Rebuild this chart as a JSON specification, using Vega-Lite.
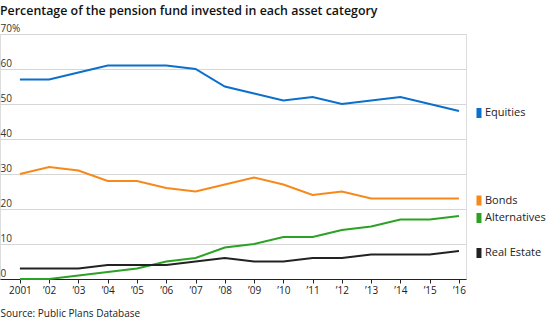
{
  "$schema": "https://vega.github.io/schema/vega-lite/v6.json",
  "width": 466,
  "height": 245,
  "autosize": {"type": "none"},
  "padding": {"left": 0, "top": 34, "right": 84, "bottom": 42},
  "background": "white",
  "title": {
    "text": "Percentage of the pension fund invested in each asset category",
    "anchor": "start",
    "frame": "group",
    "font": "Open Sans",
    "fontSize": 12.4,
    "fontWeight": 600,
    "color": "#111",
    "offset": 6
  },
  "data": {
    "values": [
      {"year": 2001, "cat": "Equities", "v": 57}, {"year": 2002, "cat": "Equities", "v": 57}, {"year": 2003, "cat": "Equities", "v": 59}, {"year": 2004, "cat": "Equities", "v": 61}, {"year": 2005, "cat": "Equities", "v": 61}, {"year": 2006, "cat": "Equities", "v": 61}, {"year": 2007, "cat": "Equities", "v": 60}, {"year": 2008, "cat": "Equities", "v": 55}, {"year": 2009, "cat": "Equities", "v": 53}, {"year": 2010, "cat": "Equities", "v": 51}, {"year": 2011, "cat": "Equities", "v": 52}, {"year": 2012, "cat": "Equities", "v": 50}, {"year": 2013, "cat": "Equities", "v": 51}, {"year": 2014, "cat": "Equities", "v": 52}, {"year": 2015, "cat": "Equities", "v": 50}, {"year": 2016, "cat": "Equities", "v": 48},
      {"year": 2001, "cat": "Bonds", "v": 30}, {"year": 2002, "cat": "Bonds", "v": 32}, {"year": 2003, "cat": "Bonds", "v": 31}, {"year": 2004, "cat": "Bonds", "v": 28}, {"year": 2005, "cat": "Bonds", "v": 28}, {"year": 2006, "cat": "Bonds", "v": 26}, {"year": 2007, "cat": "Bonds", "v": 25}, {"year": 2008, "cat": "Bonds", "v": 27}, {"year": 2009, "cat": "Bonds", "v": 29}, {"year": 2010, "cat": "Bonds", "v": 27}, {"year": 2011, "cat": "Bonds", "v": 24}, {"year": 2012, "cat": "Bonds", "v": 25}, {"year": 2013, "cat": "Bonds", "v": 23}, {"year": 2014, "cat": "Bonds", "v": 23}, {"year": 2015, "cat": "Bonds", "v": 23}, {"year": 2016, "cat": "Bonds", "v": 23},
      {"year": 2001, "cat": "Alternatives", "v": 0}, {"year": 2002, "cat": "Alternatives", "v": 0}, {"year": 2003, "cat": "Alternatives", "v": 1}, {"year": 2004, "cat": "Alternatives", "v": 2}, {"year": 2005, "cat": "Alternatives", "v": 3}, {"year": 2006, "cat": "Alternatives", "v": 5}, {"year": 2007, "cat": "Alternatives", "v": 6}, {"year": 2008, "cat": "Alternatives", "v": 9}, {"year": 2009, "cat": "Alternatives", "v": 10}, {"year": 2010, "cat": "Alternatives", "v": 12}, {"year": 2011, "cat": "Alternatives", "v": 12}, {"year": 2012, "cat": "Alternatives", "v": 14}, {"year": 2013, "cat": "Alternatives", "v": 15}, {"year": 2014, "cat": "Alternatives", "v": 17}, {"year": 2015, "cat": "Alternatives", "v": 17}, {"year": 2016, "cat": "Alternatives", "v": 18},
      {"year": 2001, "cat": "Real Estate", "v": 3}, {"year": 2002, "cat": "Real Estate", "v": 3}, {"year": 2003, "cat": "Real Estate", "v": 3}, {"year": 2004, "cat": "Real Estate", "v": 4}, {"year": 2005, "cat": "Real Estate", "v": 4}, {"year": 2006, "cat": "Real Estate", "v": 4}, {"year": 2007, "cat": "Real Estate", "v": 5}, {"year": 2008, "cat": "Real Estate", "v": 6}, {"year": 2009, "cat": "Real Estate", "v": 5}, {"year": 2010, "cat": "Real Estate", "v": 5}, {"year": 2011, "cat": "Real Estate", "v": 6}, {"year": 2012, "cat": "Real Estate", "v": 6}, {"year": 2013, "cat": "Real Estate", "v": 7}, {"year": 2014, "cat": "Real Estate", "v": 7}, {"year": 2015, "cat": "Real Estate", "v": 7}, {"year": 2016, "cat": "Real Estate", "v": 8}
    ]
  },
  "encoding": {
    "x": {
      "field": "year",
      "type": "quantitative",
      "scale": {"domain": [2000.32, 2016.24], "nice": false, "zero": false},
      "axis": {
        "values": [2001, 2002, 2003, 2004, 2005, 2006, 2007, 2008, 2009, 2010, 2011, 2012, 2013, 2014, 2015, 2016],
        "labelExpr": "datum.value == 2001 ? '2001' : '\u2019' + substring(toString(datum.value), 2, 4)",
        "grid": false,
        "domainColor": "#222",
        "domainWidth": 1.2,
        "tickColor": "#222",
        "tickSize": 4,
        "labelFont": "Open Sans",
        "labelFontSize": 10,
        "labelColor": "#222",
        "labelPadding": 2,
        "title": "Source: Public Plans Database",
        "titleAnchor": "start",
        "titleAlign": "left",
        "titleX": 0,
        "titleY": 37,
        "titleBaseline": "alphabetic",
        "titleFont": "Open Sans",
        "titleFontSize": 10,
        "titleFontWeight": "normal",
        "titleColor": "#222"
      }
    },
    "y": {
      "field": "v",
      "type": "quantitative",
      "scale": {"domain": [0, 70], "nice": false},
      "axis": {
        "values": [0, 10, 20, 30, 40, 50, 60, 70],
        "labelExpr": "datum.value == 70 ? '70%' : datum.label",
        "ticks": false,
        "domain": false,
        "labelAlign": "left",
        "labelBaseline": "alphabetic",
        "labelPadding": 0,
        "labelOffset": -3,
        "labelFont": "Open Sans",
        "labelFontSize": 10,
        "labelColor": "#333",
        "gridColor": "#d6d6d6",
        "gridWidth": 1,
        "title": null
      }
    },
    "color": {
      "field": "cat",
      "type": "nominal",
      "scale": {
        "domain": ["Equities", "Bonds", "Alternatives", "Real Estate"],
        "range": ["#0b6fcc", "#f7891a", "#2ca224", "#222222"]
      },
      "legend": null
    }
  },
  "layer": [
    {
      "mark": {"type": "line", "strokeWidth": 2, "interpolate": "linear"}
    },
    {
      "transform": [{"filter": "datum.year == 2016"}],
      "mark": {
        "type": "point",
        "shape": "M-0.5,-1H0.5V1H-0.5Z",
        "size": 100,
        "filled": true,
        "opacity": 1,
        "xOffset": 20,
        "yOffset": 2
      }
    },
    {
      "transform": [{"filter": "datum.year == 2016"}],
      "mark": {
        "type": "text",
        "align": "left",
        "baseline": "middle",
        "font": "Open Sans",
        "fontSize": 11,
        "color": "#222",
        "xOffset": 26,
        "yOffset": 2
      },
      "encoding": {
        "text": {"field": "cat"},
        "color": {"value": "#222"}
      }
    }
  ]
}
